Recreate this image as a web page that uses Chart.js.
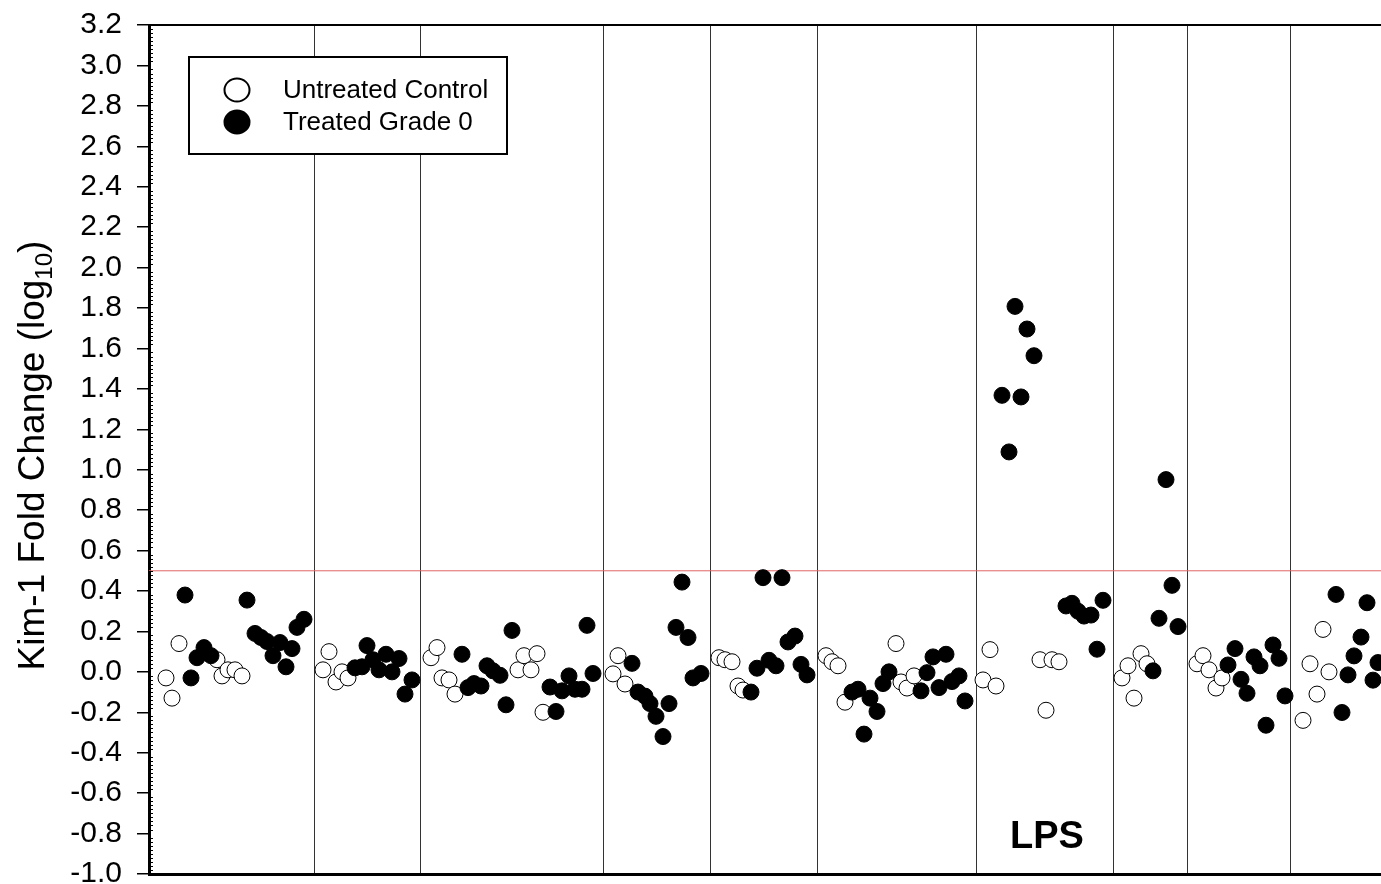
<!DOCTYPE html>
<html>
<head>
<meta charset="utf-8">
<script src="https://cdn.jsdelivr.net/npm/chart.js@4"></script>
<style>
  html, body { margin: 0; padding: 0; background: #fff; }
  canvas { display: block; }
</style>
</head>
<body>
<canvas id="chart" width="1381" height="884"></canvas>
<script>
// sample position along the run (arbitrary units) and log10 fold change
const untreatedX = [16, 22, 29, 67, 72, 78, 85, 92,
  173, 179, 186, 192, 198,
  281, 287, 292, 299, 305, 368, 374, 381, 387, 393,
  463, 468, 475,
  569, 575, 582, 588, 593,
  676, 682, 688, 695, 746, 751, 757, 764,
  833, 840, 846, 890, 896, 902, 909,
  972, 978, 984, 991, 997,
  1047, 1053, 1059, 1066, 1072,
  1153, 1160, 1167, 1173, 1179];
const untreatedY = [-0.03, -0.13, 0.14, 0.06, -0.02, 0.01, 0.01, -0.02,
  0.01, 0.10, -0.05, 0.00, -0.03,
  0.07, 0.12, -0.03, -0.04, -0.11, 0.01, 0.08, 0.01, 0.09, -0.20,
  -0.01, 0.08, -0.06,
  0.07, 0.06, 0.05, -0.07, -0.09,
  0.08, 0.05, 0.03, -0.15, 0.14, -0.05, -0.08, -0.02,
  -0.04, 0.11, -0.07, 0.06, -0.19, 0.06, 0.05,
  -0.03, 0.03, -0.13, 0.09, 0.04,
  0.04, 0.08, 0.01, -0.08, -0.03,
  -0.24, 0.04, -0.11, 0.21, 0.00];

const treatedX = [35, 41, 47, 54, 61, 97, 105, 111, 117, 123, 130, 136, 142, 147, 154,
  205, 212, 217, 223, 229, 236, 242, 249, 255, 262,
  312, 318, 324, 331, 337, 343, 350, 356, 362, 400, 406, 412, 419, 425, 432, 437, 443,
  482, 488, 495, 500, 506, 513, 519, 526, 532, 538, 543, 551,
  601, 607, 613, 619, 626, 632, 638, 645, 651, 657,
  702, 708, 714, 720, 727, 733, 739, 771, 777, 783, 789, 796, 802, 809, 815,
  852, 859, 865, 871, 877, 884, 916, 922, 928, 934, 941, 947, 953,
  1003, 1009, 1016, 1022, 1028,
  1078, 1085, 1091, 1097, 1104, 1110, 1116, 1123, 1129, 1135,
  1186, 1192, 1198, 1204, 1211, 1217, 1223, 1228];
const treatedY = [0.38, -0.03, 0.07, 0.12, 0.08, 0.355, 0.19, 0.17, 0.15, 0.08, 0.145, 0.025, 0.115, 0.22, 0.26,
  0.02, 0.025, 0.13, 0.06, 0.01, 0.087, 0.00, 0.066, -0.11, -0.04,
  0.087, -0.078, -0.058, -0.07, 0.03, 0.005, -0.017, -0.163, 0.205, -0.075, -0.196, -0.094, -0.02, -0.086, -0.086, 0.23, -0.008,
  0.042, -0.10, -0.12, -0.157, -0.22, -0.32, -0.157, 0.22, 0.444, 0.17, -0.03, -0.008,
  -0.10, 0.018, 0.466, 0.057, 0.03, 0.466, 0.148, 0.177, 0.037, -0.015,
  -0.10, -0.086, -0.308, -0.13, -0.196, -0.058, 0.00, -0.094, -0.004, 0.074, -0.078, 0.087, -0.048, -0.02, -0.144,
  1.368, 1.088, 1.808, 1.36, 1.696, 1.564, 0.326, 0.339, 0.30, 0.276, 0.281, 0.112, 0.354,
  0.005, 0.265, 0.951, 0.428, 0.224,
  0.034, 0.115, -0.037, -0.106, 0.074, 0.03, -0.264, 0.133, 0.067, -0.119,
  0.383, -0.201, -0.015, 0.079, 0.172, 0.342, -0.041, 0.046];

// group boundaries, threshold and axis range
const dividerX = [164.5, 270, 453, 560.5, 667, 826, 963, 1037, 1140];
const xMin = -1, xMax = 1231;
const yMin = -1.0, yMax = 3.2, yStep = 0.2;
const threshold = 0.5;
const groupLabels = [{ text: 'LPS', x: 897, y: -0.82 }];

const FONT = '"Liberation Sans", Arial, Helvetica, sans-serif';

const toPoints = (xs, ys) => xs.map((x, i) => ({ x: x, y: ys[i] }));

const decor = {
  id: 'decor',
  afterDraw(chart) {
    const ctx = chart.ctx;
    const area = chart.chartArea;
    const xs = chart.scales.x, ys = chart.scales.y;
    ctx.save();

    // minor ticks inside the y axis
    ctx.strokeStyle = '#000';
    ctx.lineWidth = 1;
    for (let v = yMin; v < yMax + 1e-9; v += 0.02) {
      const r = Math.round(v / yStep * 100) / 100;
      if (Math.abs(r - Math.round(r)) < 1e-6) continue;
      const py = Math.round(ys.getPixelForValue(v)) + 0.5;
      ctx.beginPath();
      ctx.moveTo(area.left, py);
      ctx.lineTo(area.left + 4, py);
      ctx.stroke();
    }

    // group labels
    ctx.fillStyle = '#000';
    ctx.font = 'bold 38px ' + FONT;
    ctx.textAlign = 'center';
    ctx.textBaseline = 'middle';
    groupLabels.forEach(g => {
      ctx.fillText(g.text, xs.getPixelForValue(g.x), ys.getPixelForValue(g.y));
    });

    // y axis title with subscript
    ctx.save();
    ctx.translate(44, (area.top + area.bottom) / 2 + 6);
    ctx.rotate(-Math.PI / 2);
    ctx.textAlign = 'left';
    ctx.textBaseline = 'alphabetic';
    const main = 'Kim-1 Fold Change (log', sub = '10', close = ')';
    ctx.font = '37px ' + FONT;
    const w1 = ctx.measureText(main).width, w3 = ctx.measureText(close).width;
    ctx.font = '24px ' + FONT;
    const w2 = ctx.measureText(sub).width;
    const x0 = -(w1 + w2 + w3) / 2;
    ctx.font = '37px ' + FONT;
    ctx.fillText(main, x0, 0);
    ctx.font = '24px ' + FONT;
    ctx.fillText(sub, x0 + w1, 8);
    ctx.font = '37px ' + FONT;
    ctx.fillText(close, x0 + w1 + w2, 0);
    ctx.restore();

    // legend box
    const bx = area.left + 40, by = area.top + 32, bw = 318, bh = 97;
    ctx.fillStyle = '#fff';
    ctx.fillRect(bx, by, bw, bh);
    ctx.lineWidth = 2;
    ctx.strokeStyle = '#000';
    ctx.strokeRect(bx, by, bw, bh);
    const items = [chart.data.datasets[0], chart.data.datasets[1]];
    ctx.font = '26px ' + FONT;
    ctx.textAlign = 'left';
    ctx.textBaseline = 'middle';
    items.forEach((ds, i) => {
      const cy = by + 33 + i * 32;
      ctx.beginPath();
      ctx.ellipse(bx + 48, cy, 12.5, 11.5, 0, 0, Math.PI * 2);
      ctx.fillStyle = ds.backgroundColor;
      ctx.fill();
      ctx.lineWidth = 2;
      ctx.strokeStyle = '#000';
      ctx.stroke();
      ctx.fillStyle = '#000';
      ctx.fillText(ds.label, bx + 94, cy + 1);
    });
    ctx.restore();
  }
};

new Chart(document.getElementById('chart'), {
  type: 'scatter',
  data: {
    datasets: [{
      label: 'Untreated Control',
      data: toPoints(untreatedX, untreatedY),
      backgroundColor: '#fff',
      borderColor: '#000',
      borderWidth: 1,
      pointRadius: 8,
      order: 1
    }, {
      label: 'Treated Grade 0',
      data: toPoints(treatedX, treatedY),
      backgroundColor: '#000',
      borderColor: '#000',
      borderWidth: 1,
      pointRadius: 8,
      order: 0
    }, {
      type: 'line',
      label: 'threshold',
      data: [{ x: xMin, y: threshold }, { x: xMax, y: threshold }],
      showLine: true,
      borderColor: '#e06666',
      borderWidth: 1,
      pointRadius: 0,
      order: 2
    }]
  },
  options: {
    responsive: false,
    animation: false,
    devicePixelRatio: 1,
    events: [],
    layout: { padding: 0, autoPadding: false },
    plugins: {
      legend: { display: false },
      tooltip: { enabled: false }
    },
    scales: {
      x: {
        type: 'linear',
        min: xMin,
        max: xMax,
        afterBuildTicks: s => { s.ticks = dividerX.map(v => ({ value: v })); },
        afterFit: s => { s.height = 10; },
        ticks: { display: false },
        grid: { drawTicks: false, color: '#333', lineWidth: 1 },
        border: { display: true, color: '#000', width: 3 }
      },
      xTop: {
        type: 'linear',
        position: 'top',
        min: xMin,
        max: xMax,
        afterFit: s => { s.height = 25; },
        ticks: { display: false },
        grid: { display: false },
        border: { display: true, color: '#000', width: 2 }
      },
      y: {
        min: yMin,
        max: yMax,
        afterFit: s => { s.width = 149; s.paddingTop = 0; s.paddingBottom = 0; },
        ticks: {
          stepSize: yStep,
          autoSkip: false,
          padding: 15,
          color: '#000',
          font: { family: FONT, size: 30 },
          callback: v => (Math.abs(v) < 1e-9 ? 0 : v).toFixed(1)
        },
        grid: { drawOnChartArea: false, drawTicks: true, tickLength: 12, color: '#000', lineWidth: 1.5 },
        border: { display: true, color: '#000', width: 3 }
      }
    }
  },
  plugins: [decor]
});
</script>
</body>
</html>
